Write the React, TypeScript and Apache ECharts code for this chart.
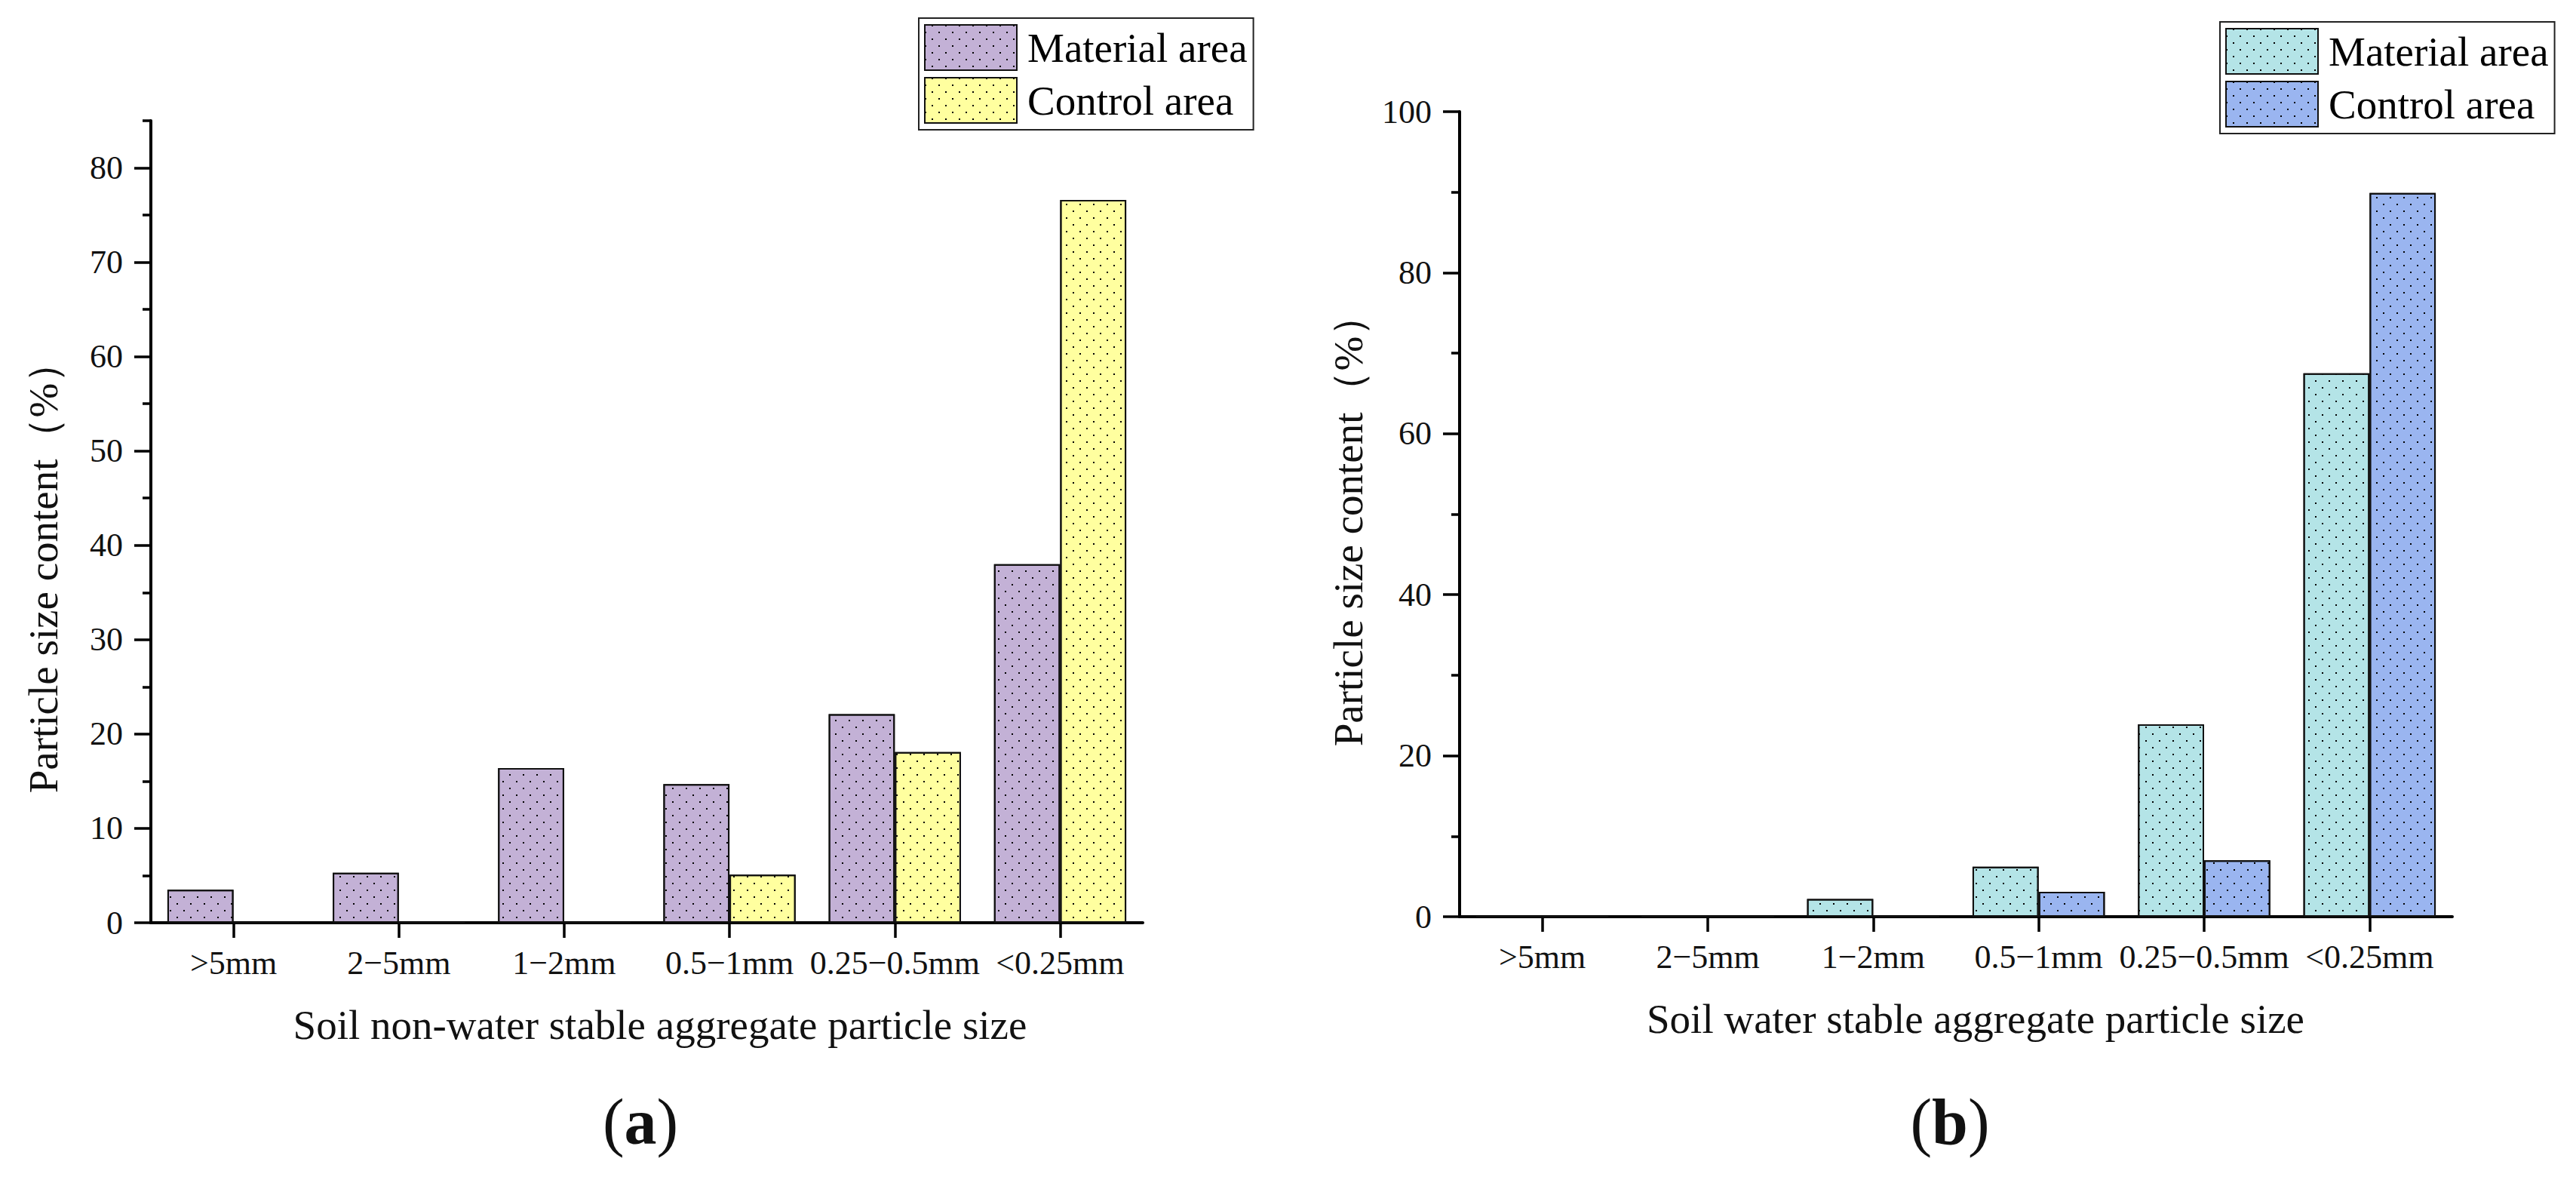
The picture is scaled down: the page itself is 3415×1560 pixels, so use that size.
import React, { useEffect, useRef } from "react";
import * as echarts from "echarts";

const categories = [">5mm", "2−5mm", "1−2mm", "0.5−1mm", "0.25−0.5mm", "<0.25mm"];
const nonWaterMaterial = [3.5, 5.3, 16.4, 14.7, 22.1, 38.0];
const nonWaterControl = [0, 0, 0, 5.1, 18.1, 76.6];
const waterMaterial = [0, 0, 2.2, 6.2, 23.9, 67.5];
const waterControl = [0, 0, 0, 3.1, 7.0, 89.9];

const aMajorTicks = [0, 10, 20, 30, 40, 50, 60, 70, 80];
const aMinorTicks = [5, 15, 25, 35, 45, 55, 65, 75, 85];
const bMajorTicks = [0, 20, 40, 60, 80, 100];
const bMinorTicks = [10, 30, 50, 70, 90];

const seriesNames = ["Material area", "Control area"];
const titleA = "Soil non-water stable aggregate particle size";
const titleB = "Soil water stable aggregate particle size";
const yTitle = "Particle size content（%）";

const COLORS = {
  aMat: "#C3B1D6",
  aCtl: "#FFFF9F",
  bMat: "#B4E4E7",
  bCtl: "#9AB5F0",
};

const FONT = "'Liberation Serif', 'Times New Roman', serif";

function makeDecal() {
  return {
    symbol: "rect",
    symbolSize: 1,
    symbolKeepAspect: false,
    color: "#000000",
    backgroundColor: null,
    dashArrayX: [
      [2, 16],
      [0, 9, 2, 7],
    ],
    dashArrayY: [2, 7],
    rotation: 0,
  };
}

function barItemStyle(color: string) {
  return {
    color,
    borderColor: "#111",
    borderWidth: 2,
    decal: makeDecal(),
  };
}

function xAxisCfg(gridIndex: number) {
  return {
    type: "category",
    gridIndex,
    data: categories,
    boundaryGap: true,
    axisLine: { show: true, onZero: false, lineStyle: { color: "#000", width: 4 } },
    axisTick: { show: true, alignWithLabel: true, length: 20, lineStyle: { color: "#000", width: 3.5 } },
    axisLabel: {
      show: true,
      interval: 0,
      margin: 31,
      fontFamily: FONT,
      fontSize: 44,
      color: "#111",
      hideOverlap: false,
    },
    splitLine: { show: false },
  };
}

function yMajorCfg(gridIndex: number, max: number, ticks: number[], interval: number) {
  return {
    type: "value",
    gridIndex,
    position: "left",
    min: 0,
    max,
    interval,
    axisLine: { show: true, lineStyle: { color: "#000", width: 4 } },
    axisTick: { show: true, length: 22, customValues: ticks, lineStyle: { color: "#000", width: 3.5 } },
    axisLabel: {
      show: true,
      customValues: ticks,
      margin: 37,
      fontFamily: FONT,
      fontSize: 44,
      color: "#111",
    },
    splitLine: { show: false },
  };
}

function yMinorCfg(gridIndex: number, max: number, ticks: number[], interval: number) {
  return {
    type: "value",
    gridIndex,
    position: "left",
    min: 0,
    max,
    interval,
    axisLine: { show: false },
    axisTick: { show: true, length: 11, customValues: ticks, lineStyle: { color: "#000", width: 3.5 } },
    axisLabel: { show: false },
    splitLine: { show: false },
  };
}

function legendCfg(left: number, top: number, c1: string, c2: string) {
  return {
    left,
    top,
    orient: "vertical",
    icon: "rect",
    itemWidth: 122,
    itemHeight: 60,
    itemGap: 8,
    padding: [8, 8, 8, 7],
    borderColor: "#222",
    borderWidth: 2,
    backgroundColor: "#fff",
    selectedMode: false,
    textStyle: { fontFamily: FONT, fontSize: 55, color: "#000", padding: [0, 0, 0, 9] },
    data: [
      { name: seriesNames[0], itemStyle: barItemStyle(c1) },
      { name: seriesNames[1], itemStyle: barItemStyle(c2) },
    ],
  };
}

function textEl(text: string, x: number, y: number, fontSize: number, rotation = 0) {
  return {
    type: "text",
    x,
    y,
    rotation,
    silent: true,
    style: {
      text,
      fill: "#111",
      font: `${fontSize}px ${FONT}`,
      fontFamily: FONT,
      fontSize,
      align: "center",
      verticalAlign: "middle",
      textAlign: "center",
      textVerticalAlign: "middle",
    },
  };
}

function panelLabel(letter: string, x: number, y: number) {
  return {
    type: "text",
    x,
    y,
    silent: true,
    style: {
      text: `{n|(}{b|${letter}}{n|)}`,
      align: "center",
      verticalAlign: "middle",
      textAlign: "center",
      textVerticalAlign: "middle",
      rich: {
        n: { fontFamily: FONT, fontSize: 86, fill: "#111", color: "#111" },
        b: { fontFamily: FONT, fontSize: 86, fontWeight: "bold", fill: "#111", color: "#111" },
      },
    },
  };
}

export default function App() {
  const ref = useRef<HTMLDivElement>(null);

  useEffect(() => {
    if (!ref.current) return;
    const chart = echarts.init(ref.current, null, { renderer: "svg", width: 3415, height: 1560 });
    const option: any = {
      animation: false,
      backgroundColor: "#fff",
      textStyle: { fontFamily: FONT },
      grid: [
        { left: 200, top: 160, width: 1315, height: 1063, outerBoundsMode: "none", containLabel: false },
        { left: 1935, top: 148, width: 1316, height: 1067, outerBoundsMode: "none", containLabel: false },
      ],
      xAxis: [xAxisCfg(0), xAxisCfg(1)],
      yAxis: [
        yMajorCfg(0, 85, aMajorTicks, 5),
        yMinorCfg(0, 85, aMinorTicks, 5),
        yMajorCfg(1, 100, bMajorTicks, 10),
        yMinorCfg(1, 100, bMinorTicks, 10),
      ],
      legend: [
        legendCfg(1218, 24, COLORS.aMat, COLORS.aCtl),
        legendCfg(2943, 29, COLORS.bMat, COLORS.bCtl),
      ],
      series: [
        {
          type: "bar",
          name: seriesNames[0],
          xAxisIndex: 0,
          yAxisIndex: 0,
          data: nonWaterMaterial,
          barGap: "0%",
          barCategoryGap: "20%",
          itemStyle: barItemStyle(COLORS.aMat),
        },
        {
          type: "bar",
          name: seriesNames[1],
          xAxisIndex: 0,
          yAxisIndex: 0,
          data: nonWaterControl,
          barGap: "0%",
          barCategoryGap: "20%",
          itemStyle: barItemStyle(COLORS.aCtl),
        },
        {
          type: "bar",
          name: seriesNames[0],
          xAxisIndex: 1,
          yAxisIndex: 2,
          data: waterMaterial,
          barGap: "0%",
          barCategoryGap: "20%",
          itemStyle: barItemStyle(COLORS.bMat),
        },
        {
          type: "bar",
          name: seriesNames[1],
          xAxisIndex: 1,
          yAxisIndex: 2,
          data: waterControl,
          barGap: "0%",
          barCategoryGap: "20%",
          itemStyle: barItemStyle(COLORS.bCtl),
        },
      ],
      graphic: [
        textEl(yTitle, 57, 752, 55, Math.PI / 2),
        textEl(yTitle, 1787, 690, 55, Math.PI / 2),
        textEl(titleA, 875, 1358, 55),
        textEl(titleB, 2619, 1350, 55),
        panelLabel("a", 849, 1487),
        panelLabel("b", 2585, 1487),
      ],
    };
    chart.setOption(option);
    return () => {
      chart.dispose();
    };
  }, []);

  return (
    <div
      ref={ref}
      style={{ position: "fixed", left: 0, top: 0, width: 3415, height: 1560, background: "#fff" }}
    />
  );
}
